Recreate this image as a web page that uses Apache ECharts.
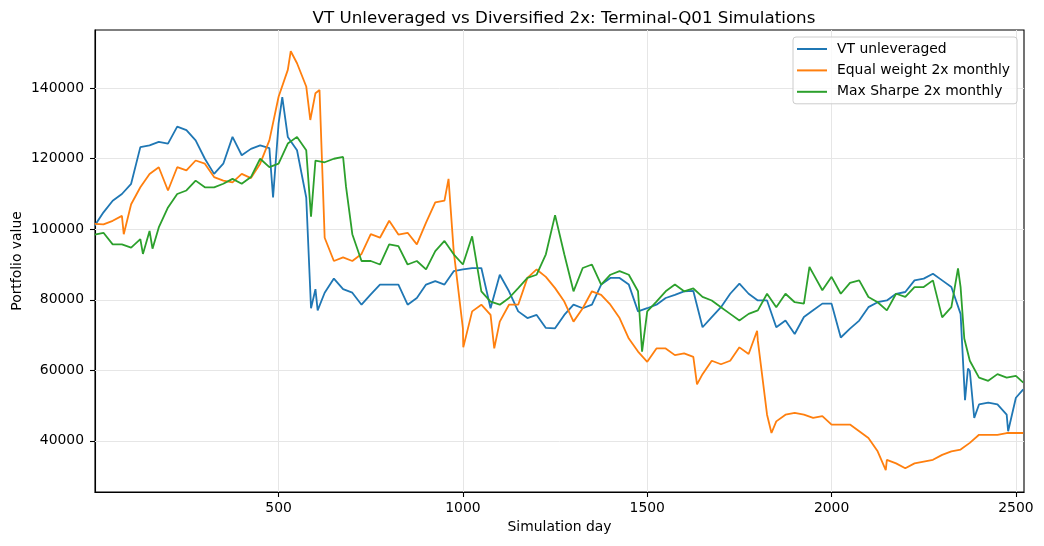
<!DOCTYPE html>
<html>
<head>
<meta charset="utf-8">
<script src="https://cdn.jsdelivr.net/npm/echarts@6/dist/echarts.min.js"></script>
<style>
  html, body, #main { width: 1044px; height: 546px; margin: 0; background: #fff; }
</style>
</head>
<body>
<div id="main"></div>
<script>
var days = [1];
for (var d = 25; d <= 2500; d += 25) days.push(d);
days.push(2520);

var vtValues = [
  101000, 104800, 108100, 110000, 112900, 123300, 123800, 124800, 124300, 129100,
  128100, 125200, 120000, 115700, 118600, 126200, 121000, 122800, 123800, 123000,
  130000, 126200, 122400, 109000, 83000, 82000, 86000, 83000, 82000, 78600,
  81500, 84300, 84300, 84300, 78600, 80500, 84300, 85300, 84300, 88100,
  88600, 89000, 89000, 77600, 87100, 82400, 76700, 74800, 75700, 72000,
  71900, 75700, 78600, 77600, 78600, 84300, 86200, 86200, 84300, 76700,
  77600, 78600, 80500, 81400, 82400, 82500, 72200, 75100, 77900, 81700,
  84600, 81700, 79800, 79800, 72200, 74100, 70300, 75100, 77000, 78900,
  78900, 69300, 71800, 74100, 77900, 79300, 79800, 81700, 82200, 85500,
  86000, 87400, 85500, 83600, 76000, 59800, 50300, 50800, 50300, 47400,
  52200, 54600
];
var ewValues = [
  101500, 101400, 102400, 103800, 107100, 111900, 115700, 117600, 111000, 117600,
  116700, 119500, 118600, 114800, 113800, 113300, 115700, 114500, 118600, 125200,
  137600, 145200, 147100, 140500, 138600, 97600, 91000, 92000, 91000, 93000,
  98600, 97600, 102400, 98500, 99000, 95700, 101900, 107600, 108100, 93800,
  71900, 76700, 78600, 75700, 73800, 78600, 78600, 86200, 88600, 86500,
  83300, 79500, 73800, 77600, 82400, 81400, 78600, 74800, 69000, 65300,
  62400, 66200, 66200, 64300, 64800, 63800, 58900, 62700, 61700, 62700,
  66500, 64600, 68400, 47400, 45500, 47400, 47900, 47400, 46500, 47000,
  44600, 44600, 44600, 42700, 40800, 37000, 34600, 33600, 32200, 33600,
  34100, 34600, 36000, 37000, 37500, 39400, 41700, 41700, 41700, 42200,
  42200, 42200
];
var msValues = [
  98500, 99000, 95700, 95700, 94800, 97200, 99500, 100500, 106200, 110000,
  111000, 113800, 111900, 111900, 112900, 114300, 112900, 114800, 120000, 117600,
  118600, 124300, 126200, 122400, 119500, 119000, 120000, 120500, 98600, 91000,
  91000, 90000, 95700, 95200, 90000, 91000, 88600, 93800, 96700, 92900,
  90000, 98000, 82400, 79500, 78600, 80500, 83300, 86200, 87100, 92900,
  104000, 92900, 82400, 89000, 90000, 84300, 87100, 88100, 87100, 82400,
  76700, 79500, 82400, 84300, 82400, 83200, 80800, 79800, 77900, 76000,
  74100, 76000, 77000, 81700, 77900, 81700, 79300, 78900, 87400, 82700,
  86500, 81700, 84800, 85500, 80800, 79300, 77000, 81700, 80800, 83600,
  83600, 85500, 75000, 77900, 83600, 62700, 57900, 57000, 58900, 57900,
  58400, 56500
];

// spikes between the 25-day samples: [day, value]
var vtExtra = [[485, 109000], [510, 137500], [588, 77600], [606, 77000], [2362, 51500], [2370, 60500], [2387, 46500], [2479, 42700]];
var ewExtra = [[80, 98600], [533, 150500], [586, 131000], [611, 139500], [618, 118600], [961, 114300], [1001, 66500], [1085, 66200], [1635, 56000], [1798, 71200], [1837, 42200], [2147, 31700]];
var msExtra = [[132, 93000], [158, 94500], [588, 103600], [683, 112000], [1486, 65300], [1940, 89300], [2343, 88900], [2360, 69000]];

var xTicks = [500, 1000, 1500, 2000, 2500];
var yTicks = [40000, 60000, 80000, 100000, 120000, 140000];

function points(vals, extra) {
  var pts = days.map(function (d, i) { return [d, vals[i]]; }).concat(extra);
  pts.sort(function (a, b) { return a[0] - b[0]; });
  return pts;
}

var chart = echarts.init(document.getElementById('main'), null, { renderer: 'canvas' });
var font = 'DejaVu Sans';
var gridLines = xTicks.map(function (v) { return { xAxis: v }; })
  .concat(yTicks.map(function (v) { return { yAxis: v }; }));

function line(name, color, data, withGrid) {
  var s = {
    name: name,
    type: 'line',
    data: data,
    showSymbol: false,
    symbol: 'none',
    lineStyle: { color: color, width: 1.8 },
    itemStyle: { color: color },
    z: 2
  };
  if (withGrid) {
    s.markLine = {
      silent: true,
      z: 1,
      symbol: 'none',
      label: { show: false },
      lineStyle: { color: '#e6e6e6', type: 'solid', width: 1 },
      data: gridLines
    };
  }
  return s;
}

var plain = function (v) { return String(v); };

chart.setOption({
  animation: false,
  backgroundColor: '#fff',
  textStyle: { fontFamily: font },
  title: {
    text: 'VT Unleveraged vs Diversified 2x: Terminal-Q01 Simulations',
    left: 559, top: 5, textAlign: 'center',
    textStyle: { fontFamily: font, fontSize: 16.7, fontWeight: 'normal', color: '#000' }
  },
  legend: {
    orient: 'vertical',
    left: 793, top: 37,
    padding: [5, 7, 5, 4],
    itemGap: 7.4,
    itemWidth: 30, itemHeight: 2,
    icon: 'rect',
    backgroundColor: 'rgba(255,255,255,0.8)',
    borderColor: '#cccccc', borderWidth: 1, borderRadius: 3,
    textStyle: { fontFamily: font, fontSize: 13.9, color: '#000', padding: [0, 0, 0, 5] },
    data: ['VT unleveraged', 'Equal weight 2x monthly', 'Max Sharpe 2x monthly']
  },
  grid: {
    left: 95, right: 20, top: 30, bottom: 54,
    containLabel: false, outerBoundsMode: 'none',
    show: true, borderColor: '#000', borderWidth: 1.1
  },
  xAxis: {
    type: 'value',
    min: 2, max: 2522,
    name: 'Simulation day', nameLocation: 'middle', nameGap: 28, nameMoveOverlap: false,
    nameTextStyle: { fontFamily: font, fontSize: 13.9, color: '#000' },
    axisLine: { show: true, lineStyle: { color: '#000', width: 1.1 } },
    axisTick: { show: true, length: 5, customValues: xTicks, lineStyle: { color: '#000', width: 1.1 } },
    axisLabel: { customValues: xTicks, formatter: plain, margin: 9, fontFamily: font, fontSize: 13.9, color: '#000' },
    splitLine: { show: false }
  },
  yAxis: {
    type: 'value',
    min: 25470, max: 156520,
    name: 'Portfolio value', nameLocation: 'middle', nameGap: 71, nameRotate: 90, nameMoveOverlap: false,
    nameTextStyle: { fontFamily: font, fontSize: 13.9, color: '#000' },
    axisLine: { show: true, lineStyle: { color: '#000', width: 1.1 } },
    axisTick: { show: true, length: 5, customValues: yTicks, lineStyle: { color: '#000', width: 1.1 } },
    axisLabel: { customValues: yTicks, formatter: plain, margin: 11, fontFamily: font, fontSize: 13.9, color: '#000' },
    splitLine: { show: false }
  },
  series: [
    line('VT unleveraged', '#1f77b4', points(vtValues, vtExtra), true),
    line('Equal weight 2x monthly', '#ff7f0e', points(ewValues, ewExtra), false),
    line('Max Sharpe 2x monthly', '#2ca02c', points(msValues, msExtra), false)
  ]
});
</script>
</body>
</html>
